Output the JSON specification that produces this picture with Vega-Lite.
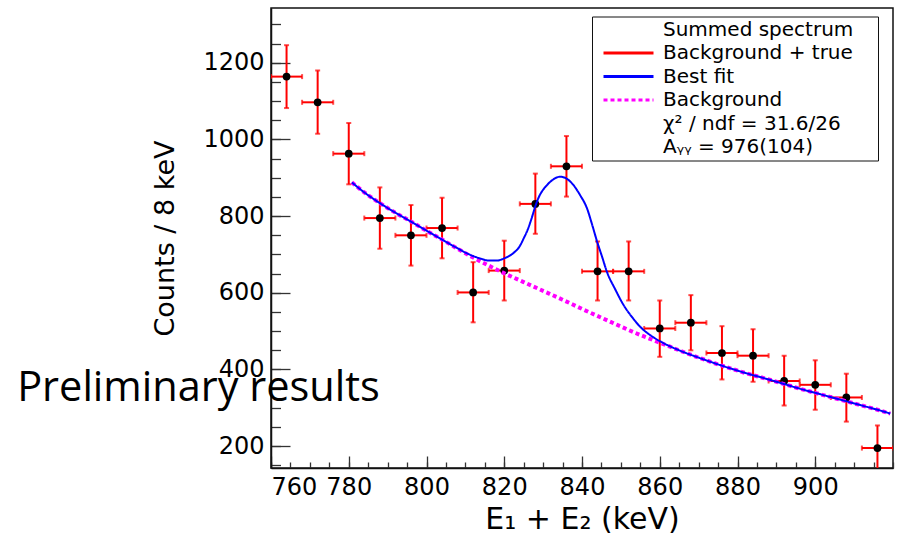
{
  "$schema": "https://vega.github.io/schema/vega-lite/v6.json",
  "width": 622,
  "height": 460,
  "autosize": {"type": "none"},
  "padding": {"left": 271, "top": 8, "right": 7, "bottom": 71},
  "background": "white",
  "config": {
    "view": {"stroke": "#111", "strokeWidth": 1.5},
    "axis": {
      "grid": false,
      "domainColor": "#111",
      "domainWidth": 1.5,
      "tickColor": "#333",
      "tickWidth": 1.3,
      "labelFont": "DejaVu Sans",
      "labelFontSize": 24,
      "labelColor": "#000",
      "titleFont": "DejaVu Sans",
      "titleColor": "#000",
      "titleFontWeight": "normal"
    }
  },
  "datasets": {
    "points": [
      {"E": 764, "N": 1164, "lo": 1082, "hi": 1246, "x0": 760, "x1": 768},
      {"E": 772, "N": 1097, "lo": 1015, "hi": 1180, "x0": 768, "x1": 776},
      {"E": 780, "N": 963, "lo": 883, "hi": 1043, "x0": 776, "x1": 784},
      {"E": 788, "N": 795, "lo": 715, "hi": 875, "x0": 784, "x1": 792},
      {"E": 796, "N": 750, "lo": 671, "hi": 829, "x0": 792, "x1": 800},
      {"E": 804, "N": 769, "lo": 690, "hi": 848, "x0": 800, "x1": 808},
      {"E": 812, "N": 601, "lo": 523, "hi": 680, "x0": 808, "x1": 816},
      {"E": 820, "N": 658, "lo": 580, "hi": 736, "x0": 816, "x1": 824},
      {"E": 828, "N": 832, "lo": 754, "hi": 911, "x0": 824, "x1": 832},
      {"E": 836, "N": 930, "lo": 851, "hi": 1009, "x0": 832, "x1": 840},
      {"E": 844, "N": 656, "lo": 580, "hi": 734, "x0": 840, "x1": 848},
      {"E": 852, "N": 656, "lo": 580, "hi": 734, "x0": 848, "x1": 856},
      {"E": 860, "N": 507, "lo": 433, "hi": 580, "x0": 856, "x1": 864},
      {"E": 868, "N": 522, "lo": 450, "hi": 594, "x0": 864, "x1": 872},
      {"E": 876, "N": 443, "lo": 374, "hi": 513, "x0": 872, "x1": 880},
      {"E": 884, "N": 436, "lo": 368, "hi": 505, "x0": 880, "x1": 888},
      {"E": 892, "N": 370, "lo": 306, "hi": 436, "x0": 888, "x1": 896},
      {"E": 900, "N": 360, "lo": 295, "hi": 424, "x0": 896, "x1": 904},
      {"E": 908, "N": 327, "lo": 264, "hi": 389, "x0": 904, "x1": 912},
      {"E": 916, "N": 195, "lo": 136, "hi": 254, "x0": 912, "x1": 920}
    ],
    "curves": [
      {"series": "Background", "E": 780.8, "N": 888}, {"series": "Background", "E": 784, "N": 862}, {"series": "Background", "E": 788, "N": 834}, {"series": "Background", "E": 792, "N": 809},
      {"series": "Background", "E": 796, "N": 786}, {"series": "Background", "E": 800, "N": 762}, {"series": "Background", "E": 804, "N": 739}, {"series": "Background", "E": 808, "N": 715},
      {"series": "Background", "E": 812, "N": 692}, {"series": "Background", "E": 816, "N": 671}, {"series": "Background", "E": 820, "N": 651}, {"series": "Background", "E": 825, "N": 628},
      {"series": "Background", "E": 830, "N": 605}, {"series": "Background", "E": 835, "N": 582}, {"series": "Background", "E": 840, "N": 558}, {"series": "Background", "E": 845, "N": 535},
      {"series": "Background", "E": 850, "N": 512}, {"series": "Background", "E": 855, "N": 490}, {"series": "Background", "E": 860, "N": 470}, {"series": "Background", "E": 865, "N": 450},
      {"series": "Background", "E": 870, "N": 431}, {"series": "Background", "E": 876, "N": 410}, {"series": "Background", "E": 882, "N": 391}, {"series": "Background", "E": 888, "N": 374},
      {"series": "Background", "E": 892, "N": 362}, {"series": "Background", "E": 896, "N": 350}, {"series": "Background", "E": 900, "N": 339}, {"series": "Background", "E": 904, "N": 328},
      {"series": "Background", "E": 908, "N": 317}, {"series": "Background", "E": 912, "N": 306}, {"series": "Background", "E": 916, "N": 295}, {"series": "Background", "E": 919.3, "N": 285},
      {"series": "Best fit", "E": 780.8, "N": 888}, {"series": "Best fit", "E": 784, "N": 862}, {"series": "Best fit", "E": 788, "N": 834}, {"series": "Best fit", "E": 792, "N": 809},
      {"series": "Best fit", "E": 796, "N": 786}, {"series": "Best fit", "E": 800, "N": 762}, {"series": "Best fit", "E": 804, "N": 739}, {"series": "Best fit", "E": 808, "N": 716},
      {"series": "Best fit", "E": 810, "N": 705}, {"series": "Best fit", "E": 812, "N": 696}, {"series": "Best fit", "E": 814, "N": 689}, {"series": "Best fit", "E": 816, "N": 684},
      {"series": "Best fit", "E": 818, "N": 684}, {"series": "Best fit", "E": 820, "N": 690}, {"series": "Best fit", "E": 822, "N": 701}, {"series": "Best fit", "E": 824, "N": 722},
      {"series": "Best fit", "E": 825, "N": 742}, {"series": "Best fit", "E": 826, "N": 764}, {"series": "Best fit", "E": 827, "N": 793}, {"series": "Best fit", "E": 828, "N": 826},
      {"series": "Best fit", "E": 829, "N": 852}, {"series": "Best fit", "E": 830, "N": 869}, {"series": "Best fit", "E": 831, "N": 881}, {"series": "Best fit", "E": 832.5, "N": 895},
      {"series": "Best fit", "E": 834.4, "N": 903}, {"series": "Best fit", "E": 836, "N": 898}, {"series": "Best fit", "E": 837.8, "N": 881}, {"series": "Best fit", "E": 839.5, "N": 855},
      {"series": "Best fit", "E": 841.3, "N": 820}, {"series": "Best fit", "E": 842.6, "N": 778}, {"series": "Best fit", "E": 843.9, "N": 733}, {"series": "Best fit", "E": 845.2, "N": 693},
      {"series": "Best fit", "E": 846.4, "N": 655}, {"series": "Best fit", "E": 848.5, "N": 610}, {"series": "Best fit", "E": 850.7, "N": 568}, {"series": "Best fit", "E": 853, "N": 535},
      {"series": "Best fit", "E": 855, "N": 511}, {"series": "Best fit", "E": 857.5, "N": 490}, {"series": "Best fit", "E": 860, "N": 474}, {"series": "Best fit", "E": 865, "N": 450},
      {"series": "Best fit", "E": 870, "N": 431}, {"series": "Best fit", "E": 876, "N": 410}, {"series": "Best fit", "E": 882, "N": 391}, {"series": "Best fit", "E": 888, "N": 374},
      {"series": "Best fit", "E": 892, "N": 362}, {"series": "Best fit", "E": 896, "N": 350}, {"series": "Best fit", "E": 900, "N": 339}, {"series": "Best fit", "E": 904, "N": 328},
      {"series": "Best fit", "E": 908, "N": 317}, {"series": "Best fit", "E": 912, "N": 306}, {"series": "Best fit", "E": 916, "N": 295}, {"series": "Best fit", "E": 919.3, "N": 285}
    ],
    "note": [{"label": "Preliminary results", "E": 694.7, "N": 316.7}]
  },
  "layer": [
    {
      "data": {"name": "points"},
      "mark": {"type": "errorbar", "color": "red", "thickness": 2, "clip": true,
               "ticks": {"size": 5, "thickness": 2, "color": "red"}},
      "encoding": {
        "x": {"field": "E", "type": "quantitative", "scale": {"domain": [760, 920], "nice": false, "zero": false}, "axis": null},
        "y": {"field": "lo", "type": "quantitative", "scale": {"domain": [143, 1343], "nice": false, "zero": false}, "axis": null},
        "y2": {"field": "hi"}
      }
    },
    {
      "data": {"name": "points"},
      "mark": {"type": "errorbar", "color": "red", "thickness": 2, "clip": true,
               "ticks": {"size": 5, "thickness": 2, "color": "red"}},
      "encoding": {
        "x": {"field": "x0", "type": "quantitative", "scale": {"domain": [760, 920], "nice": false, "zero": false}, "axis": null},
        "x2": {"field": "x1"},
        "y": {"field": "N", "type": "quantitative", "scale": {"domain": [143, 1343], "nice": false, "zero": false}, "axis": null}
      }
    },
    {
      "data": {"name": "points"},
      "mark": {"type": "point", "filled": true, "color": "black", "size": 60, "opacity": 1},
      "encoding": {
        "x": {"field": "E", "type": "quantitative", "scale": {"domain": [760, 920], "nice": false, "zero": false},
              "axis": {"orient": "bottom", "values": [760, 765, 770, 775, 780, 785, 790, 795, 800, 805, 810, 815, 820, 825, 830, 835, 840, 845, 850, 855, 860, 865, 870, 875, 880, 885, 890, 895, 900, 905, 910, 915, 920],
                       "tickSize": -6, "labels": false, "title": null, "domain": false}},
        "y": {"field": "N", "type": "quantitative", "scale": {"domain": [143, 1343], "nice": false, "zero": false},
              "axis": {"orient": "left", "values": [150, 200, 250, 300, 350, 400, 450, 500, 550, 600, 650, 700, 750, 800, 850, 900, 950, 1000, 1050, 1100, 1150, 1200, 1250, 1300],
                       "tickSize": -9.5, "labels": false, "title": null, "domain": false}}
      }
    },
    {
      "data": {"name": "curves"},
      "transform": [{"filter": "datum.series === 'Background'"}],
      "mark": {"type": "line", "interpolate": "monotone", "clip": true, "strokeWidth": 4},
      "encoding": {
        "x": {"field": "E", "type": "quantitative", "scale": {"domain": [760, 920], "nice": false, "zero": false},
              "axis": {"orient": "bottom", "values": [760, 780, 800, 820, 840, 860, 880, 900], "format": "d", "tickSize": -12, "labelPadding": 19,
                       "title": "E₁ + E₂ (keV)", "titleFontSize": 30, "titleY": 60, "titleBaseline": "alphabetic"}},
        "y": {"field": "N", "type": "quantitative", "scale": {"domain": [143, 1343], "nice": false, "zero": false},
              "axis": {"orient": "left", "values": [200, 400, 600, 800, 1000, 1200], "format": "d", "tickSize": -19, "labelPadding": 26,
                       "title": "Counts / 8 keV", "titleFontSize": 27, "titleAngle": 270, "titleX": -98, "titleY": 230, "titleBaseline": "alphabetic", "titleAlign": "center"}},
        "strokeDash": {"field": "series", "type": "nominal",
                       "scale": {"domain": ["Summed spectrum", "Background + true", "Best fit", "Background", "χ² / ndf = 31.6/26", "Aᵧᵧ = 976(104)"],
                                 "range": [[1, 0], [1, 0], [1, 0], [4, 3], [1, 0], [1, 0]]}},
        "color": {"field": "series", "type": "nominal",
                  "scale": {"domain": ["Summed spectrum", "Background + true", "Best fit", "Background", "χ² / ndf = 31.6/26", "Aᵧᵧ = 976(104)"],
                            "range": ["transparent", "red", "blue", "magenta", "transparent", "transparent"]},
                  "legend": {
                    "orient": "none", "legendX": 321, "legendY": 8.5,
                    "title": "\u00a0", "titleOrient": "right", "titleFontSize": 2, "titlePadding": 22, "direction": "vertical",
                    "padding": 3, "strokeColor": "#111", "fillColor": "white",
                    "symbolSize": 2500, "symbolStrokeWidth": 3, "clipHeight": 20, "rowPadding": 3.5, "symbolOffset": 7, "labelOffset": 8,
                    "labelFont": "DejaVu Sans", "labelFontSize": 20, "labelColor": "black", "labelLimit": 400
                  }}
      }
    },
    {
      "data": {"name": "curves"},
      "transform": [{"filter": "datum.series === 'Best fit'"}],
      "mark": {"type": "line", "interpolate": "monotone", "clip": true, "strokeWidth": 2},
      "encoding": {
        "x": {"field": "E", "type": "quantitative", "scale": {"domain": [760, 920], "nice": false, "zero": false}, "axis": null},
        "y": {"field": "N", "type": "quantitative", "scale": {"domain": [143, 1343], "nice": false, "zero": false}, "axis": null},
        "strokeDash": {"field": "series", "type": "nominal",
                       "scale": {"domain": ["Summed spectrum", "Background + true", "Best fit", "Background", "χ² / ndf = 31.6/26", "Aᵧᵧ = 976(104)"],
                                 "range": [[1, 0], [1, 0], [1, 0], [4, 3], [1, 0], [1, 0]]}},
        "color": {"field": "series", "type": "nominal",
                  "scale": {"domain": ["Summed spectrum", "Background + true", "Best fit", "Background", "χ² / ndf = 31.6/26", "Aᵧᵧ = 976(104)"],
                            "range": ["transparent", "red", "blue", "magenta", "transparent", "transparent"]}}
      }
    },
    {
      "data": {"name": "note"},
      "mark": {"type": "text", "font": "Open Sans", "fontSize": 41.5, "align": "left", "baseline": "alphabetic", "color": "black"},
      "encoding": {
        "text": {"field": "label"},
        "x": {"field": "E", "type": "quantitative", "scale": {"domain": [760, 920], "nice": false, "zero": false}, "axis": null},
        "y": {"field": "N", "type": "quantitative", "scale": {"domain": [143, 1343], "nice": false, "zero": false}, "axis": null}
      }
    }
  ],
  "resolve": {"axis": {"x": "independent", "y": "independent"}}
}
